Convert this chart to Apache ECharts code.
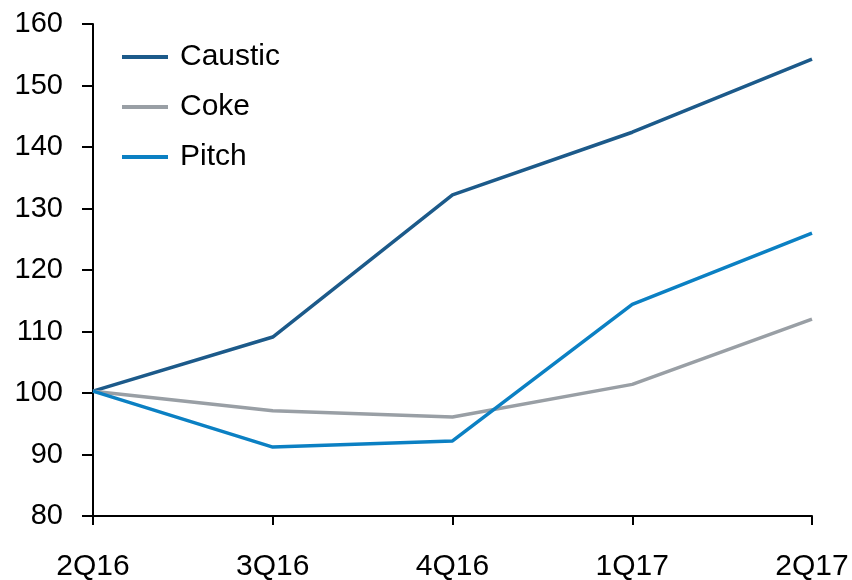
<!DOCTYPE html>
<html>
<head>
<meta charset="utf-8">
<script src="https://cdn.jsdelivr.net/npm/echarts@6/dist/echarts.min.js"></script>
<style>html,body{margin:0;padding:0;background:#fff}#c{width:852px;height:580px}</style>
</head>
<body>
<div id="c"></div>
<script>
var categories = ['2Q16', '3Q16', '4Q16', '1Q17', '2Q17'];
var caustic = [100.3, 109.1, 132.2, 142.4, 154.3];
var coke = [100.3, 97.1, 96.1, 101.4, 112.0];
var pitch = [100.3, 91.2, 92.2, 114.4, 126.0];
var yTicks = [80, 90, 100, 110, 120, 130, 140, 150, 160];

var chart = echarts.init(document.getElementById('c'), null, {renderer: 'canvas'});
var font = 'Liberation Sans, Arial, sans-serif';
function mk(name, data, color) {
  return {name: name, type: 'line', data: data, symbol: 'none', animation: false,
    lineStyle: {color: color, width: 3.5}, itemStyle: {color: color}};
}
chart.setOption({
  animation: false,
  backgroundColor: '#fff',
  grid: {left: 93, right: 40, top: 24, bottom: 64, containLabel: false, outerBoundsMode: 'none'},
  legend: {
    orient: 'vertical', left: 122, top: 42, padding: 0,
    itemWidth: 46, itemHeight: 4, itemGap: 20, icon: 'rect',
    textStyle: {fontFamily: font, fontSize: 30, color: '#000', padding: [0, 0, 0, 7], lineHeight: 30},
    data: ['Caustic', 'Coke', 'Pitch']
  },
  xAxis: {
    type: 'category', data: categories, boundaryGap: false,
    axisLine: {lineStyle: {color: '#000', width: 2}},
    axisTick: {show: true, length: 9, lineStyle: {color: '#000', width: 2}, alignWithLabel: true},
    axisLabel: {fontFamily: font, fontSize: 30, color: '#000', margin: 36},
    splitLine: {show: false}
  },
  yAxis: {
    type: 'value', min: yTicks[0], max: yTicks[yTicks.length - 1], interval: 10,
    axisLine: {show: true, lineStyle: {color: '#000', width: 2}},
    axisTick: {show: true, length: 11, lineStyle: {color: '#000', width: 2}},
    axisLabel: {fontFamily: font, fontSize: 29, color: '#000', margin: 30},
    splitLine: {show: false}
  },
  series: [
    mk('Caustic', caustic, '#1c5a8a'),
    mk('Coke', coke, '#999fa5'),
    mk('Pitch', pitch, '#0b80c3')
  ]
});
</script>
</body>
</html>
